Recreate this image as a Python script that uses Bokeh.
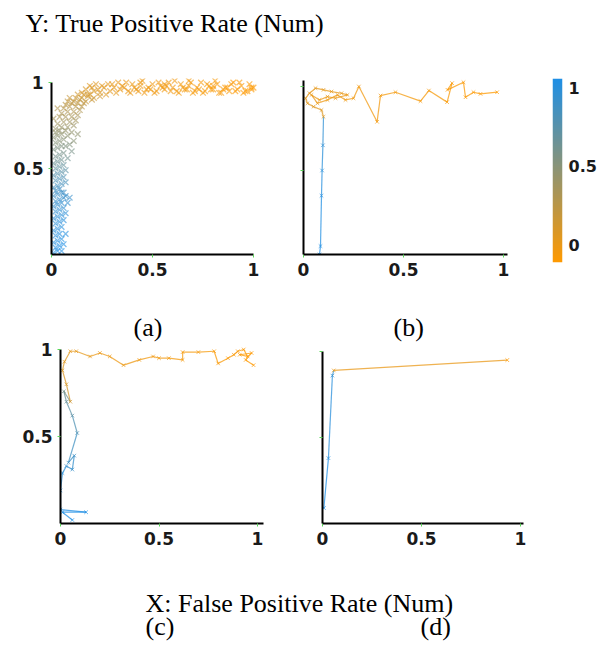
import numpy as np
from bokeh.plotting import figure
from bokeh.models import (ColumnDataSource, LinearColorMapper, FixedTicker, Range1d, Label,
                          LinearAxis, Title)
from bokeh.layouts import column, row
from bokeh.transform import transform
from bokeh.embed import file_html
from bokeh.resources import INLINE

# ---------------- data ----------------
# (a) scatter cloud: FPR, TPR, colour value (threshold)
xa = [0.01,0.03,0.05,0.02,0.04,0.06,0.01,0.03,0.05,0.02,
      0.04,0.07,0.01,0.03,0.05,0.02,0.04,0.06,0.01,0.03,
      0.05,0.07,0.02,0.04,0.06,0.01,0.03,0.05,0.08,0.02,
      0.04,0.06,0.09,0.01,0.03,0.05,0.07,0.02,0.04,0.06,
      0.01,0.03,0.05,0.07,0.02,0.04,0.06,0.01,0.03,0.05,
      0.07,0.02,0.04,0.06,0.01,0.03,0.05,0.08,0.02,0.04,
      0.06,0.10,0.01,0.03,0.05,0.07,0.09,0.02,0.04,0.06,
      0.11,0.01,0.03,0.08,0.13,0.05,0.02,0.07,0.10,0.04,
      0.02,0.05,0.08,0.11,0.03,0.06,0.09,0.12,0.01,0.04,
      0.07,0.10,0.13,0.05,0.08,0.11,0.14,0.03,0.06,0.09,
      0.12,0.15,0.07,0.10,0.13,0.16,0.08,0.11,0.14,0.17,
      0.20,0.09,0.12,0.15,0.18,0.21,0.24,0.13,0.16,0.19,
      0.15,0.18,0.21,0.24,0.27,0.17,0.20,0.23,0.26,0.29,
      0.32,0.19,0.22,0.25,0.28,0.31,0.34,0.30,0.33,0.35,
      0.36,0.38,0.40,0.42,0.44,0.46,0.48,0.50,0.52,0.54,
      0.56,0.58,0.60,0.62,0.64,0.66,0.68,0.70,0.72,0.74,
      0.76,0.78,0.80,0.82,0.84,0.86,0.88,0.90,0.92,0.94,
      0.96,0.98,1.00,0.37,0.41,0.45,0.49,0.53,0.57,0.61,
      0.65,0.69,0.73,0.77,0.81,0.85,0.89,0.93,0.97,0.99,
      0.39,0.43,0.47,0.51,0.55,0.59,0.63,0.67,0.71,0.75,
      0.79,0.83,0.87,0.91,0.95,0.99,0.44,0.56,0.68,0.80]
ya = [0.01,0.02,0.02,0.04,0.05,0.06,0.07,0.08,0.09,0.11,
      0.12,0.12,0.14,0.15,0.16,0.18,0.19,0.20,0.21,0.22,
      0.23,0.24,0.25,0.26,0.27,0.28,0.29,0.30,0.30,0.31,
      0.32,0.33,0.33,0.34,0.35,0.36,0.34,0.37,0.38,0.36,
      0.39,0.40,0.41,0.42,0.43,0.44,0.45,0.46,0.47,0.48,
      0.49,0.50,0.51,0.52,0.53,0.54,0.55,0.56,0.57,0.58,
      0.59,0.60,0.61,0.62,0.63,0.63,0.64,0.65,0.66,0.67,
      0.66,0.68,0.69,0.69,0.70,0.70,0.71,0.72,0.71,0.72,
      0.73,0.74,0.74,0.75,0.76,0.77,0.77,0.78,0.79,0.80,
      0.80,0.80,0.81,0.82,0.83,0.83,0.84,0.85,0.85,0.86,
      0.86,0.86,0.87,0.88,0.88,0.88,0.89,0.89,0.90,0.89,
      0.90,0.91,0.91,0.91,0.92,0.91,0.92,0.93,0.93,0.93,
      0.94,0.93,0.95,0.94,0.93,0.96,0.97,0.96,0.97,0.95,
      0.94,0.98,0.99,0.98,0.99,0.97,0.96,0.99,1.00,0.98,
      0.97,0.95,0.99,0.96,0.98,0.94,0.97,0.99,0.95,0.98,
      0.96,1.00,0.97,0.95,0.99,0.96,0.98,0.94,0.97,1.00,
      0.95,0.98,0.96,0.99,0.94,0.97,0.95,1.00,0.96,0.98,
      0.95,0.99,0.97,1.00,0.97,1.01,0.96,1.00,0.98,1.01,
      0.97,1.00,0.96,0.99,1.01,0.96,0.99,1.00,0.95,0.97,
      0.94,0.95,0.96,0.94,0.97,0.95,0.94,0.96,0.95,0.94,
      0.96,0.94,0.97,0.95,0.94,0.96,1.00,0.99,1.01,0.98]
ca = [1.00,1.00,1.00,0.99,0.99,0.99,0.98,0.98,0.98,0.97,
      0.97,0.97,0.96,0.96,0.96,0.95,0.95,0.95,0.94,0.94,
      0.93,0.93,0.92,0.92,0.91,0.91,0.90,0.90,0.90,0.89,
      0.89,0.88,0.88,0.87,0.87,0.86,0.87,0.85,0.85,0.86,
      0.84,0.83,0.82,0.81,0.80,0.79,0.77,0.76,0.75,0.73,
      0.72,0.70,0.69,0.68,0.66,0.65,0.64,0.63,0.62,0.61,
      0.60,0.59,0.58,0.57,0.56,0.56,0.55,0.54,0.53,0.52,
      0.52,0.51,0.50,0.50,0.49,0.49,0.48,0.47,0.48,0.47,
      0.46,0.45,0.45,0.44,0.43,0.42,0.42,0.41,0.40,0.39,
      0.39,0.38,0.38,0.37,0.36,0.35,0.35,0.34,0.33,0.33,
      0.32,0.31,0.31,0.30,0.29,0.29,0.28,0.27,0.27,0.26,
      0.25,0.25,0.24,0.23,0.23,0.22,0.21,0.21,0.20,0.19,
      0.19,0.18,0.17,0.16,0.15,0.17,0.16,0.15,0.14,0.13,
      0.12,0.15,0.14,0.13,0.12,0.11,0.10,0.11,0.10,0.10,
      0.09,0.09,0.08,0.08,0.08,0.07,0.07,0.07,0.07,0.06,
      0.06,0.06,0.06,0.05,0.05,0.05,0.05,0.04,0.04,0.04,
      0.04,0.03,0.03,0.03,0.03,0.02,0.02,0.02,0.02,0.01,
      0.01,0.01,0.00,0.09,0.08,0.08,0.07,0.07,0.06,0.06,
      0.05,0.05,0.04,0.04,0.03,0.03,0.02,0.02,0.01,0.01,
      0.09,0.08,0.07,0.07,0.06,0.06,0.05,0.05,0.04,0.04,
      0.03,0.03,0.02,0.02,0.01,0.01,0.08,0.06,0.05,0.03]

# (b) path
xb = [0.08,0.085,0.09,0.093,0.097,0.10,0.09,0.05,0.02,0.01,0.03,0.06,0.10,0.14,0.19,0.22,0.16,0.12,0.08,0.04,
      0.07,0.12,0.17,0.21,0.25,0.277,0.368,0.385,0.46,0.585,0.627,0.718,0.743,0.72,0.80,0.81,0.85,0.885,0.968]
yb = [0.0,0.05,0.35,0.50,0.65,0.82,0.86,0.88,0.90,0.93,0.96,0.99,0.98,0.97,0.96,0.95,0.93,0.94,0.92,0.95,
      0.90,0.92,0.95,0.92,0.93,1.00,0.79,0.946,0.966,0.913,0.976,0.907,1.02,0.98,1.025,0.936,0.966,0.956,0.966]
cb = [1.0,0.98,0.96,0.94,0.92,0.15,0.14,0.14,0.13,0.13,0.12,0.12,0.11,0.11,0.10,0.10,0.10,0.09,0.09,0.09,
      0.08,0.08,0.08,0.07,0.07,0.06,0.06,0.05,0.05,0.04,0.04,0.03,0.03,0.03,0.02,0.02,0.01,0.01,0.0]

# (c) path
xc = [0.06,0.01,0.13,0.0,0.0,0.01,0.03,0.06,0.07,0.04,0.085,0.06,0.03,0.017,0.05,0.03,0.01,0.02,0.05,0.08,
      0.15,0.2,0.25,0.32,0.4,0.47,0.5,0.55,0.62,0.62,0.7,0.78,0.8,0.85,0.88,0.9,0.93,0.95,0.91,0.97,0.94,0.98]
yc = [0.02,0.065,0.065,0.08,0.19,0.29,0.33,0.31,0.39,0.35,0.52,0.62,0.70,0.76,0.70,0.80,0.88,0.93,0.99,0.99,
      0.96,0.98,0.96,0.91,0.94,0.96,0.95,0.95,0.94,0.985,0.985,0.99,0.92,0.95,0.97,0.99,1.0,0.96,0.97,0.98,0.94,0.91]
cc = [1.0,1.0,0.99,0.98,0.96,0.94,0.9,0.88,0.86,0.84,0.78,0.72,0.66,0.6,0.2,0.17,0.15,0.13,0.12,0.11,
      0.1,0.09,0.08,0.08,0.07,0.06,0.06,0.05,0.05,0.04,0.04,0.03,0.03,0.02,0.02,0.02,0.01,0.01,0.01,0.0,0.0,0.0]

# (d) path
xd = [0.007,0.03,0.05,0.057,0.933]
yd = [0.09,0.38,0.86,0.89,0.95]
cd = [1.0,0.95,0.9,0.1,0.0]

x_ticks = [0, 0.5, 1]
y_ticks = [0.5, 1]
cbar_ticks = [0, 0.5, 1]
cbar_low, cbar_high = -0.108, 1.057

# ---------------- styling ----------------
ORANGE = (255, 153, 0)
BLUE = (30, 143, 230)
palette = []
for i in range(256):
    t = i / 255
    r = round(ORANGE[0] + (BLUE[0] - ORANGE[0]) * t)
    g = round(ORANGE[1] + (BLUE[1] - ORANGE[1]) * t)
    b = round(ORANGE[2] + (BLUE[2] - ORANGE[2]) * t)
    palette.append("#%02x%02x%02x" % (r, g, b))

mapper = LinearColorMapper(palette=palette, low=0, high=1)
TICK_FONT = "DejaVu Sans"
TICK_SIZE = "17px"
SERIF = "Liberation Serif"


def style_axis(ax):
    ax.axis_line_color = "black"
    ax.axis_line_width = 2
    ax.major_tick_line_color = "#5ad65a"
    ax.major_tick_out = 3
    ax.major_tick_in = 0
    ax.minor_tick_line_color = None
    ax.major_label_text_font = TICK_FONT
    ax.major_label_text_font_size = TICK_SIZE
    ax.major_label_text_font_style = "bold"
    ax.major_label_text_color = "#1a1a1a"
    ax.major_label_standoff = 5


def panel(fw, fh, left, right, top, bottom, xend, yend, xbound, ybound, ylabels):
    p = figure(frame_width=fw, frame_height=fh,
               x_range=Range1d(0, xend), y_range=Range1d(0, yend),
               output_backend="svg", toolbar_location=None, title=None,
               min_border_left=left, min_border_right=right,
               min_border_top=top, min_border_bottom=bottom)
    p.grid.visible = False
    p.outline_line_color = None
    p.background_fill_color = "white"
    p.border_fill_color = "white"
    xa_, ya_ = p.xaxis[0], p.yaxis[0]
    style_axis(xa_)
    style_axis(ya_)
    xa_.ticker = FixedTicker(ticks=x_ticks)
    xa_.bounds = (0, xbound)
    ya_.ticker = FixedTicker(ticks=y_ticks)
    ya_.bounds = (0, ybound)
    ya_.major_label_text_baseline = "top"
    if not ylabels:
        ya_.major_label_overrides = {0.5: "", 1: ""}
    return p


def path(p, xs, ys, cs):
    seg = ColumnDataSource(dict(x0=xs[:-1], y0=ys[:-1], x1=xs[1:], y1=ys[1:], c=cs[:-1]))
    p.segment("x0", "y0", "x1", "y1", source=seg, line_color=transform("c", mapper),
              line_width=1.2, line_alpha=0.75)
    pts = ColumnDataSource(dict(x=xs, y=ys, c=cs))
    p.scatter("x", "y", source=pts, marker="x", size=5, line_width=1,
              line_color=transform("c", mapper), line_alpha=0.7)


def textfig(w, h):
    f = figure(width=w, height=h, x_range=(0, 1), y_range=(0, 1), x_axis_type=None,
               y_axis_type=None, min_border=0, toolbar_location=None,
               output_backend="svg", title=None)
    f.outline_line_color = None
    f.grid.visible = False
    return f


def caption(p, text, offset):
    p.add_layout(Title(text=text, align="left", offset=offset, standoff=3,
                       text_font=SERIF, text_font_size="26px", text_font_style="normal",
                       text_color="black"), "above")


# ---------------- panels ----------------
# row 1: 240 px tall
pa = panel(206, 176, 51, 13, 15, 49, 206 / 202, 176 / 172, 1.0, 1.0, True)
src_a = ColumnDataSource(dict(x=xa, y=ya, c=ca))
pa.scatter("x", "y", source=src_a, marker="x", size=8, line_width=1.3,
           line_color=transform("c", mapper), line_alpha=0.6)

pb = panel(206, 176, 33, 24, 18, 46, 206 / 200, 176 / 168, 1.02, 1.035, False)
path(pb, xb, yb, cb)

# colour bar as its own small plot: gradient image + right axis
cb_mapper = LinearColorMapper(palette=palette, low=cbar_low, high=cbar_high)
pcb = figure(frame_width=10, frame_height=184, x_range=Range1d(0, 1),
             y_range=Range1d(cbar_low, cbar_high),
             x_axis_type=None, y_axis_type=None, toolbar_location=None, output_backend="svg",
             title=None, min_border_left=19, min_border_right=38, min_border_top=18,
             min_border_bottom=38)
pcb.grid.visible = False
pcb.outline_line_color = None
grad = np.linspace(cbar_low, cbar_high, 256).reshape(256, 1)
pcb.image(image=[grad], x=0, y=cbar_low, dw=1, dh=cbar_high - cbar_low, color_mapper=cb_mapper)
cax = LinearAxis(ticker=FixedTicker(ticks=cbar_ticks))
style_axis(cax)
cax.axis_line_color = None
cax.major_tick_line_color = None
cax.major_tick_out = 0
cax.major_label_text_font_size = "16px"
cax.major_label_standoff = 6
pcb.add_layout(cax, "right")

# row 2: 275 px tall, captions (a)/(b) sit in its top margin
pc = panel(206, 180, 60, 24, 43, 52, 206 / 197, 180 / 174, 1.03, 1.0, True)
path(pc, xc, yc, cc)
caption(pc, "(a)", 73)

pd = panel(206, 180, 32, 46, 43, 52, 206 / 198, 180 / 172, 1.015, 1.0, False)
path(pd, xd, yd, cd)
caption(pd, "(b)", 71)

# ---------------- texts ----------------
def lab(fig, x, y, text, align="left"):
    fig.add_layout(Label(x=x, y=y, x_units="screen", y_units="screen", text=text,
                         text_font=SERIF, text_font_size="26px", text_align=align,
                         text_baseline="alphabetic", text_color="black"))


head = textfig(600, 60)
lab(head, 25, 37, "Y: True Positive Rate (Num)")

foot = textfig(600, 75)
lab(foot, 145, 47, "X: False Positive Rate (Num)")
lab(foot, 145, 24, "(c)")
lab(foot, 420, 24, "(d)")

layout = column(head, row(pa, pb, pcb), row(pc, pd), foot)

open("out.html", "w").write(file_html(layout, INLINE))
